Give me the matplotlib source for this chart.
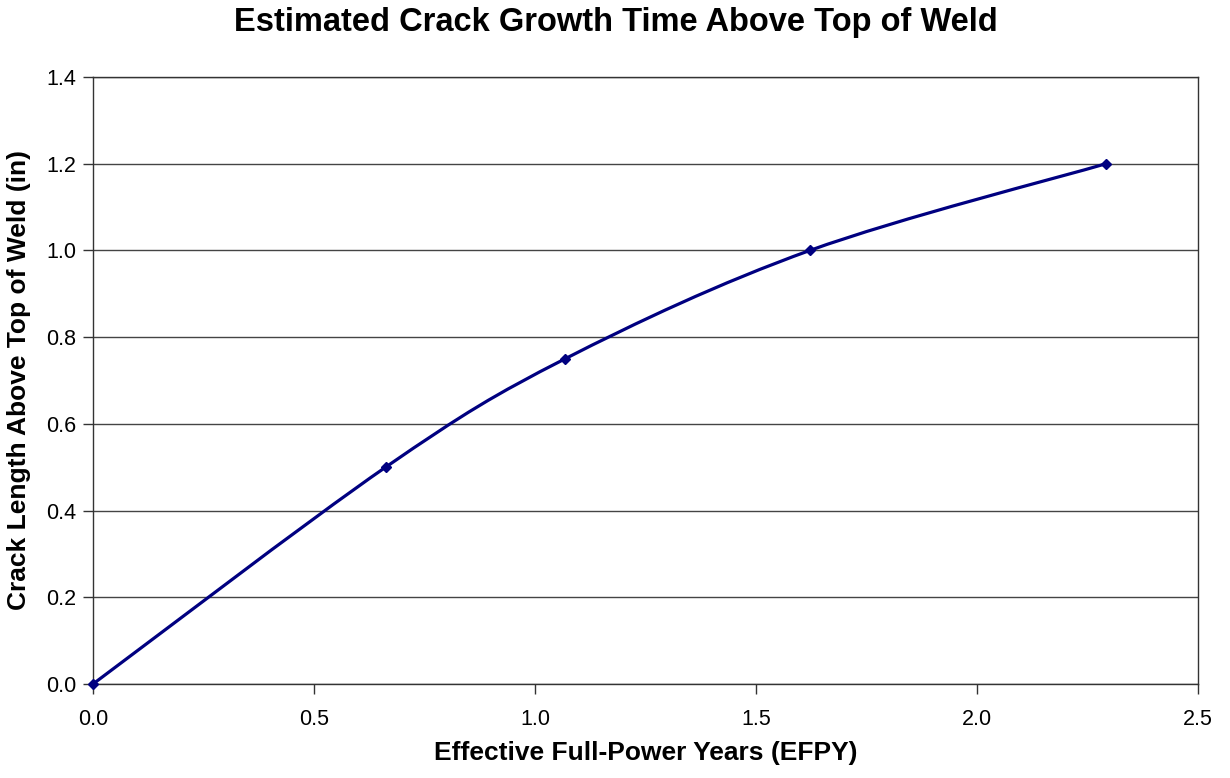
import numpy as np
import matplotlib.pyplot as plt
from matplotlib.path import Path
from matplotlib.patches import PathPatch

# data
efpy = [0.0, 0.662, 1.068, 1.622, 2.292]
crack_len = [0.0, 0.5, 0.75, 1.0, 1.2]

plt.rcParams['font.family'] = ['Liberation Sans', 'DejaVu Sans']

fig = plt.figure(figsize=(12.3, 7.78), dpi=100)
ax = fig.add_axes([93 / 1230, 1 - 684 / 778, 1105 / 1230, 607 / 778])

# smoothed line (Excel-style bezier through the points)
pts = np.column_stack([efpy, crack_len])
verts = [pts[0]]
codes = [Path.MOVETO]
n = len(pts)
for i in range(n - 1):
    p0 = pts[i - 1] if i > 0 else pts[i]
    p1 = pts[i]
    p2 = pts[i + 1]
    p3 = pts[i + 2] if i + 2 < n else pts[i + 1]
    c1 = p1 + (p2 - p0) / 6
    c2 = p2 - (p3 - p1) / 6
    verts += [c1, c2, p2]
    codes += [Path.CURVE4] * 3
ax.add_patch(PathPatch(Path(verts, codes), fill=False, edgecolor='#000080', lw=2.3, zorder=3))
ax.plot(efpy, crack_len, linestyle='none', marker='D', ms=5, color='#000080', zorder=4, clip_on=False)

ax.set_xlim(0, 2.5)
ax.set_ylim(0, 1.4)
ax.set_xticks(np.arange(0, 2.51, 0.5))
ax.set_yticks(np.arange(0, 1.41, 0.2))
ax.xaxis.set_major_formatter(plt.FormatStrFormatter('%.1f'))
ax.yaxis.set_major_formatter(plt.FormatStrFormatter('%.1f'))
ax.tick_params(direction='out', length=7, width=1, labelsize=15.5, color='#333333', pad=5)
ax.tick_params(axis='x', pad=11)
ax.grid(axis='y', color='#444444', lw=1)
for s in ax.spines.values():
    s.set_color('#333333')
    s.set_linewidth(1)

fig.text(616 / 1230, 1 - 23 / 778, 'Estimated Crack Growth Time Above Top of Weld',
         ha='center', va='center', fontsize=23.5, fontweight='bold')
fig.text(646 / 1230, 1 - 753 / 778, 'Effective Full-Power Years (EFPY)',
         ha='center', va='center', fontsize=19, fontweight='bold')
fig.text(19 / 1230, 1 - 380 / 778, 'Crack Length Above Top of Weld (in)',
         ha='center', va='center', rotation=90, fontsize=19, fontweight='bold')

fig.savefig('out.png', dpi=100)
